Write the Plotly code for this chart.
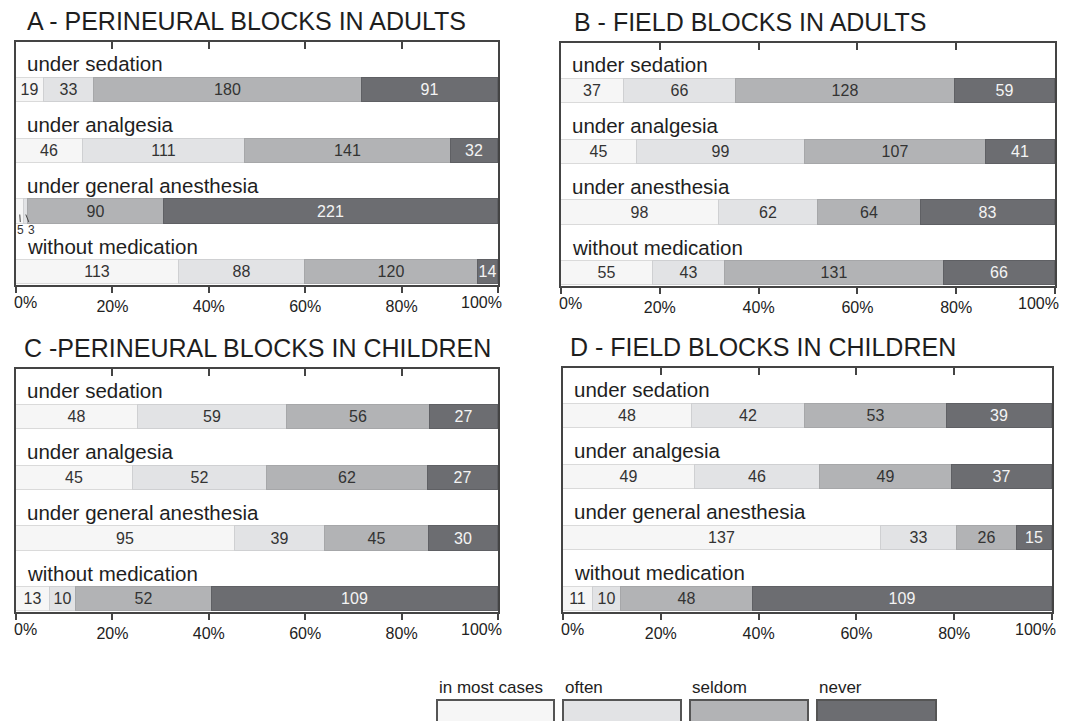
import plotly.graph_objects as go

# ---------------- data ----------------
levels = ["in most cases", "often", "seldom", "never"]
level_colors = ["#f6f6f6", "#e2e3e5", "#b2b3b5", "#6c6d71"]
level_lines = ["#dadada", "#cfd0d2", "#a6a7a9", "#5f6064"]
level_text_colors = ["#333333", "#333333", "#333333", "#f4f4f4"]

titles = ["A - PERINEURAL BLOCKS IN ADULTS", "B - FIELD BLOCKS IN ADULTS",
          "C -PERINEURAL BLOCKS IN CHILDREN", "D - FIELD BLOCKS IN CHILDREN"]

categories_A = ["under sedation", "under analgesia", "under general anesthesia", "without medication"]
categories_B = ["under sedation", "under analgesia", "under anesthesia", "without medication"]
categories_C = ["under sedation", "under analgesia", "under general anesthesia", "without medication"]
categories_D = ["under sedation", "under analgesia", "under general anesthesia", "without medication"]

A_most = [19, 46, 5, 113]
A_often = [33, 111, 3, 88]
A_seldom = [180, 141, 90, 120]
A_never = [91, 32, 221, 14]

B_most = [37, 45, 98, 55]
B_often = [66, 99, 62, 43]
B_seldom = [128, 107, 64, 131]
B_never = [59, 41, 83, 66]

C_most = [48, 45, 95, 13]
C_often = [59, 52, 39, 10]
C_seldom = [56, 62, 45, 52]
C_never = [27, 27, 30, 109]

D_most = [48, 49, 137, 11]
D_often = [42, 46, 33, 10]
D_seldom = [53, 49, 26, 48]
D_never = [39, 37, 15, 109]

tick_vals = [0, 20, 40, 60, 80, 100]
tick_text = ["", "20%", "40%", "60%", "80%", ""]
edge_labels = ["0%", "100%"]

# ---------------- layout geometry ----------------
# the page body keeps its default 8px margin, so the figure is offset by 8px
OFF = 8
W, H = 1069 - OFF, 721 - OFF
FONT = "Liberation Sans, Arial, sans-serif"


def px_x(p):
    return (p - OFF) / W


def px_y(p):
    return 1 - (p - OFF) / H


panels = [
    dict(cats=categories_A, vals=[A_most, A_often, A_seldom, A_never],
         xd=[px_x(16), px_x(498)], yd=[px_y(285), px_y(42)], title_xy=(25, 21)),
    dict(cats=categories_B, vals=[B_most, B_often, B_seldom, B_never],
         xd=[px_x(561), px_x(1055)], yd=[px_y(286), px_y(43)], title_xy=(572, 22)),
    dict(cats=categories_C, vals=[C_most, C_often, C_seldom, C_never],
         xd=[px_x(16), px_x(498)], yd=[px_y(612), px_y(369)], title_xy=(22, 348)),
    dict(cats=categories_D, vals=[D_most, D_often, D_seldom, D_never],
         xd=[px_x(563), px_x(1052)], yd=[px_y(612), px_y(368)], title_xy=(568, 347)),
]

fig = go.Figure()
annotations = []
shapes = []
layout_axes = {}

ypos = [0, 1, 2, 3]

for pi, p in enumerate(panels):
    n = pi + 1
    xa = "x" if n == 1 else f"x{n}"
    ya = "y" if n == 1 else f"y{n}"
    xkey = "xaxis" if n == 1 else f"xaxis{n}"
    ykey = "yaxis" if n == 1 else f"yaxis{n}"
    totals = [sum(v[i] for v in p["vals"]) for i in range(4)]

    for li, lvl in enumerate(levels):
        vals = p["vals"][li]
        texts = []
        for i, v in enumerate(vals):
            share = v / totals[i] * 100
            texts.append(str(v) if share > 2.5 else "")
        fig.add_trace(go.Bar(
            x=vals, y=ypos, orientation="h", name=lvl, width=0.4,
            marker=dict(color=level_colors[li], line=dict(color=level_lines[li], width=1)),
            text=texts, textposition="inside", insidetextanchor="middle", textangle=0,
            insidetextfont=dict(color=level_text_colors[li], size=16, family=FONT),
            xaxis=xa, yaxis=ya, showlegend=False, hoverinfo="x+name",
        ))
        # tiny segments labelled outside with leader lines
        for i, v in enumerate(vals):
            share = v / totals[i] * 100
            if share <= 2.5:
                cum = sum(p["vals"][k][i] for k in range(li))
                center = (cum + v / 2) / totals[i] * 100
                annotations.append(dict(
                    x=center, y=ypos[i] + 0.05, xref=xa, yref=ya, text=str(v),
                    showarrow=True, arrowhead=0, arrowwidth=1, arrowcolor="#444",
                    ax=1 + 5 * li, ay=15, standoff=0, borderpad=0,
                    font=dict(size=12, color="#333", family=FONT)))

    # top overlay axis carrying inward ticks
    ov = 4 + n
    fig.add_trace(go.Scatter(x=[], y=[], xaxis=f"x{ov}", yaxis=ya, showlegend=False, hoverinfo="skip"))

    layout_axes[xkey] = dict(
        domain=p["xd"], anchor=ya, range=[0, 100], tickvals=tick_vals, ticktext=tick_text,
        ticks="outside", ticklen=6, tickwidth=2, tickcolor="#444",
        showline=True, linecolor="#444", linewidth=2, mirror=True,
        showgrid=False, zeroline=False, fixedrange=True, automargin=False,
        tickfont=dict(size=16, color="#222", family=FONT))
    layout_axes[f"xaxis{ov}"] = dict(
        overlaying=xa, anchor=ya, side="top", range=[0, 100], tickvals=tick_vals,
        ticks="inside", ticklen=7, tickwidth=2, tickcolor="#444", automargin=False,
        showticklabels=False, showline=False, showgrid=False, zeroline=False)
    layout_axes[ykey] = dict(
        domain=p["yd"], anchor=xa, range=[3.21, -0.79], showticklabels=False, ticks="",
        showline=True, linecolor="#444", linewidth=2, mirror=True, automargin=False,
        showgrid=False, zeroline=False, fixedrange=True)

    # edge tick labels (0% / 100%) pulled inward as in the original
    annotations.append(dict(
        x=tick_vals[0], y=0, xref=xa, yref=f"{ya} domain", text=edge_labels[0],
        showarrow=False, xanchor="left", yanchor="top", xshift=-4, yshift=-7,
        font=dict(size=16, color="#222", family=FONT)))
    annotations.append(dict(
        x=tick_vals[-1], y=0, xref=xa, yref=f"{ya} domain", text=edge_labels[1],
        showarrow=False, xanchor="right", yanchor="top", xshift=6, yshift=-7,
        font=dict(size=16, color="#222", family=FONT)))

    for i, c in enumerate(p["cats"]):
        annotations.append(dict(
            x=1.8, y=ypos[i] - 0.43, xref=xa, yref=ya, text=c, showarrow=False,
            xanchor="left", yanchor="middle",
            font=dict(size=20.5, color="#1e1e1e", family=FONT)))

    tx, ty = p["title_xy"]
    annotations.append(dict(
        x=px_x(tx), y=px_y(ty), xref="paper", yref="paper", text=titles[pi],
        showarrow=False, xanchor="left", yanchor="middle",
        font=dict(size=25, color="#1e1e1e", family=FONT)))

# ---------------- legend (drawn manually) ----------------
legend_x = [(437, 554), (563, 681), (690, 808), (817, 936)]
for li, lvl in enumerate(levels):
    x0, x1 = legend_x[li]
    shapes.append(dict(type="rect", xref="paper", yref="paper",
                       x0=px_x(x0), x1=px_x(x1), y0=px_y(730), y1=px_y(700),
                       fillcolor=level_colors[li], line=dict(color="#555", width=2)))
    annotations.append(dict(
        x=px_x(x0), y=px_y(687), xref="paper", yref="paper", text=lvl,
        showarrow=False, xanchor="left", yanchor="middle",
        font=dict(size=17, color="#1e1e1e", family=FONT)))

fig.update_layout(
    width=W, height=H, margin=dict(l=0, r=0, t=0, b=0, autoexpand=False),
    paper_bgcolor="white", plot_bgcolor="white",
    barmode="stack", barnorm="percent", bargap=0,
    uniformtext=dict(minsize=16, mode="show"),
    annotations=annotations, shapes=shapes,
    font=dict(family=FONT, color="#222"),
    **layout_axes,
)

fig.write_html("out.html")
